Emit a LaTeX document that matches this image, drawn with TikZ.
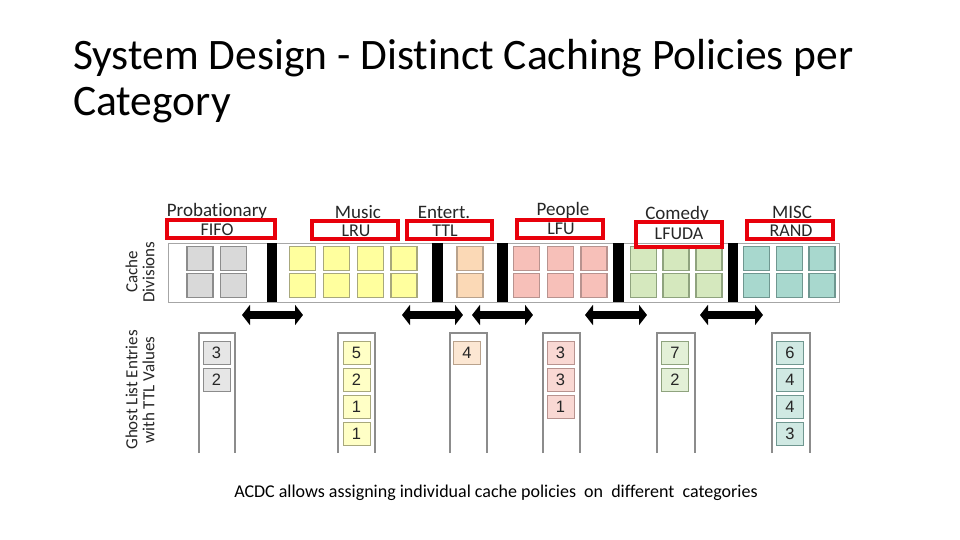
\documentclass[tikz,border=0pt]{standalone}
\usepackage{fontspec}
\setmainfont{Carlito}[Ligatures=NoCommon]
\newfontfamily\numfont{Liberation Sans}
\usetikzlibrary{arrows.meta}
\definecolor{grayF}{HTML}{D9D9D9}\definecolor{grayD}{HTML}{8C8C8C}
\definecolor{yelF}{HTML}{FFFF9E}\definecolor{yelD}{HTML}{A8A87C}
\definecolor{peaF}{HTML}{FBD9B6}\definecolor{peaD}{HTML}{B9A28C}
\definecolor{pinF}{HTML}{F7C0B9}\definecolor{pinD}{HTML}{B8938F}
\definecolor{greF}{HTML}{D5E8BE}\definecolor{greD}{HTML}{8FA37E}
\definecolor{teaF}{HTML}{A8D8CE}\definecolor{teaD}{HTML}{6F9790}
\definecolor{grayG}{HTML}{E6E6E6}
\definecolor{yelG}{HTML}{FFFFC6}
\definecolor{peaG}{HTML}{FCE7D3}
\definecolor{pinG}{HTML}{F9D8D3}
\definecolor{greG}{HTML}{E3F0D7}
\definecolor{teaG}{HTML}{D0E9E3}
\definecolor{redbox}{HTML}{E8000B}
\definecolor{labtext}{HTML}{262626}
\tikzset{
  sq/.style={draw, line width=1.1pt, minimum width=26pt, minimum height=24pt, inner sep=0pt},
  bar/.style={fill=black, minimum width=10.5pt, minimum height=59pt, inner sep=0pt},
  catlab/.style={font=\fontsize{19}{19}\selectfont, text=labtext, inner sep=0pt},
  pollab/.style={font=\fontsize{18}{18}\selectfont, text=labtext, inner sep=0pt},
  redrect/.style={draw=redbox, line width=3.8pt, inner sep=0pt},
  ghostcol/.style={draw=gray!90, line width=1.1pt},
  gbox/.style={draw, line width=0.9pt, minimum width=27pt, minimum height=23pt, inner sep=0pt, font=\numfont\fontsize{16.5}{16.5}\selectfont, text=labtext},
  sidelab/.style={font=\fontsize{17}{17}\selectfont, text=labtext, align=center, rotate=90, inner sep=0pt},
  dblarrow/.style={line width=8pt, {Triangle[length=8pt,width=20pt]}-{Triangle[length=8pt,width=20pt]}}
}
\begin{document}
\begin{tikzpicture}[x=1pt,y=-1pt]
\useasboundingbox[fill=white] (0,0) rectangle (960,540);
% title
\node[anchor=base west, inner sep=0pt, font=\fontsize{43.5}{47}\selectfont] (t1) at (73,70) {System Design - Distinct Caching Policies per};
\node[anchor=base west, inner sep=0pt, font=\fontsize{43.5}{47}\selectfont] (t2) at (73,116) {Category};
% side labels
\node[sidelab] (sl1) at (140,272) {Cache\\Divisions};
\node[sidelab] (sl2) at (140,390) {Ghost List Entries\\with TTL Values};
% strip
\node[draw=gray!70, line width=0.8pt, minimum width=671pt, minimum height=59pt, inner sep=0pt, anchor=north west] (strip) at (168,243) {};
% bars
\foreach \x [count=\i] in {272,437.5,502.5,618.5,733}
  \node[bar] (bar\i) at (\x,272.5) {};
% squares
\foreach \x [count=\i] in {200,233.5}
  {\node[sq, fill=grayF, draw=grayD] (gs\i a) at (\x,258.5) {};
   \node[sq, fill=grayF, draw=grayD] (gs\i b) at (\x,285.5) {};}
\foreach \x [count=\i] in {302.5,336.5,370.5,404}
  {\node[sq, fill=yelF, draw=yelD] (ys\i a) at (\x,258.5) {};
   \node[sq, fill=yelF, draw=yelD] (ys\i b) at (\x,285.5) {};}
\foreach \x [count=\i] in {470}
  {\node[sq, fill=peaF, draw=peaD] (ps\i a) at (\x,258.5) {};
   \node[sq, fill=peaF, draw=peaD] (ps\i b) at (\x,285.5) {};}
\foreach \x [count=\i] in {526.5,560.5,594}
  {\node[sq, fill=pinF, draw=pinD] (ks\i a) at (\x,258.5) {};
   \node[sq, fill=pinF, draw=pinD] (ks\i b) at (\x,285.5) {};}
\foreach \x [count=\i] in {643.5,676,709}
  {\node[sq, fill=greF, draw=greD] (cs\i a) at (\x,258.5) {};
   \node[sq, fill=greF, draw=greD] (cs\i b) at (\x,285.5) {};}
\foreach \x [count=\i] in {756.5,789.5,822}
  {\node[sq, fill=teaF, draw=teaD] (ms\i a) at (\x,258.5) {};
   \node[sq, fill=teaF, draw=teaD] (ms\i b) at (\x,285.5) {};}
% category labels
\node[catlab] (c1) at (217,211) {Probationary};
\node[catlab] (c2) at (358,212) {Music};
\node[catlab] (c3) at (444,212) {Entert.};
\node[catlab] (c4) at (563,210) {People};
\node[catlab] (c5) at (677,214) {Comedy};
\node[catlab] (c6) at (792,212) {MISC};
% policy labels
\node[pollab] (p1) at (217,230) {FIFO};
\node[pollab] (p2) at (356,231) {LRU};
\node[pollab] (p3) at (445,231) {TTL};
\node[pollab] (p4) at (561,229) {LFU};
\node[pollab] (p5) at (679,234) {LFUDA};
\node[pollab] (p6) at (791,231) {RAND};
% red boxes
\node[redrect, minimum width=108pt, minimum height=18pt] (r1) at (221,229) {};
\node[redrect, minimum width=86pt, minimum height=18pt] (r2) at (355,230) {};
\node[redrect, minimum width=85pt, minimum height=18pt] (r3) at (449.5,230) {};
\node[redrect, minimum width=86pt, minimum height=18pt] (r4) at (560,229) {};
\node[redrect, minimum width=86pt, minimum height=25pt] (r5) at (679,234.5) {};
\node[redrect, minimum width=86pt, minimum height=18pt] (r6) at (790,230) {};
% arrows
\foreach \l/\r [count=\i] in {242/303,402/463,472/533,585/647,700/763}
  {\coordinate (al\i) at (\l,315); \coordinate (ar\i) at (\r,315);
   \draw[dblarrow] (al\i) -- (ar\i);}
% ghost columns
\foreach \l/\r in {199/235,338/375,450/487,543/580,657/695,772/810}
  \draw[ghostcol] (\l,453) -- (\l,333) -- (\r,333) -- (\r,453);
% ghost boxes
\foreach \n [count=\k from 0] in {3,2}
  \node[gbox, fill=grayG, draw=grayD] (gg\k) at (216.5,352.5+27*\k) {\n};
\foreach \n [count=\k from 0] in {5,2,1,1}
  \node[gbox, fill=yelG, draw=yelD] (gy\k) at (356.5,352.5+27*\k) {\n};
\foreach \n [count=\k from 0] in {4}
  \node[gbox, fill=peaG, draw=peaD] (gp\k) at (467,352.5+27*\k) {\n};
\foreach \n [count=\k from 0] in {3,3,1}
  \node[gbox, fill=pinG, draw=pinD] (gk\k) at (560.5,352.5+27*\k) {\n};
\foreach \n [count=\k from 0] in {7,2}
  \node[gbox, fill=greG, draw=greD] (gc\k) at (675,352.5+27*\k) {\n};
\foreach \n [count=\k from 0] in {6,4,4,3}
  \node[gbox, fill=teaG, draw=teaD] (gm\k) at (790,352.5+27*\k) {\n};
% caption
\node[anchor=base, inner sep=0pt, font=\fontsize{18}{18}\selectfont] (cap) at (496,497) {ACDC allows assigning individual cache policies\ \ on\ \ different\ \ categories};
\end{tikzpicture}
\end{document}
